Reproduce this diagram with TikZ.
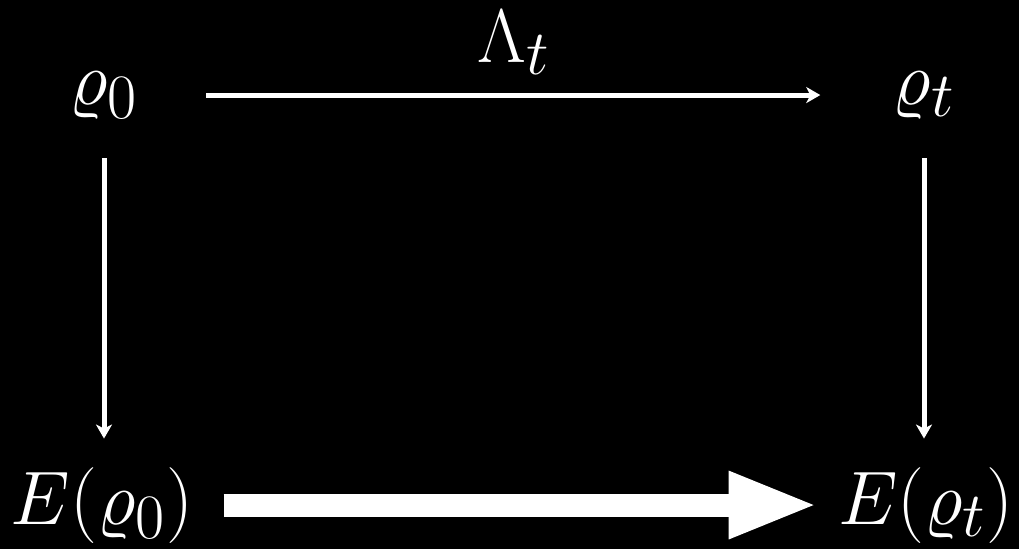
\documentclass[tikz,border=0pt]{standalone}
\usepackage{amsmath,amssymb}
\usepackage{tikz}
\usetikzlibrary{positioning,arrows.meta}

\begin{document}
\begin{tikzpicture}[
  x=0.02cm, y=0.02cm,
  state/.style={text=white, inner sep=0pt, anchor=base, scale=1.736, font=\Huge},
  arrow/.style={-{Stealth[length=0.28cm, width=0.32cm, inset=0.08cm]}, white, line width=0.1cm},
  bigarrow/.style={-{Triangle[length=1.8cm, width=1.22cm]}, white, line width=0.46cm}
]

\fill[black] (0,0) rectangle (1019,549);
\useasboundingbox (0,0) rectangle (1019,549);

\node[state](rho0) at (104,445){$\varrho_0$};
\node[state](rhot) at (924,445){$\varrho_t$};
\node[state](lam) at (514,487){$\Lambda_t$};
\node[state](Erho0) at (102,25){$E(\varrho_0)$};
\node[state](Erhot) at (926,25){$E(\varrho_t)$};

\draw[arrow, shorten <=1.34cm, shorten >=1.44cm] (rho0.east) -- (rhot.west);
\draw[arrow, shorten <=0.78cm, shorten >=0.56cm] (rho0.south) -- (rho0.south |- Erho0.north);
\draw[arrow, shorten <=0.78cm, shorten >=0.56cm] (rhot.south) -- (rhot.south |- Erhot.north);
\draw[bigarrow, shorten <=0.6cm, shorten >=0.38cm] (Erho0.east) -- (Erhot.west);

\end{tikzpicture}
\end{document}
